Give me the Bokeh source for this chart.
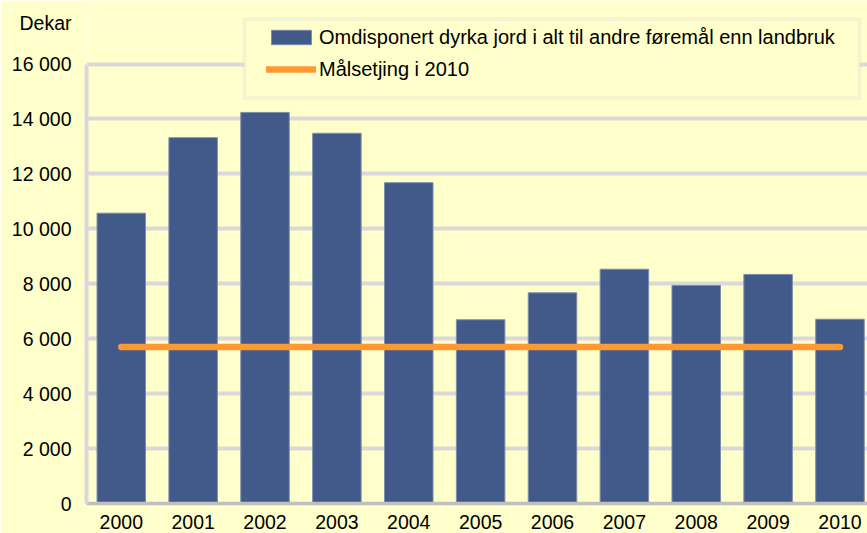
from bokeh.plotting import figure
from bokeh.models import (Range1d, FixedTicker, Legend, LegendItem,
                          BoxAnnotation, LinearAxis)
from bokeh.embed import file_html
from bokeh.resources import INLINE

# ---- data ----
years = [2000, 2001, 2002, 2003, 2004, 2005, 2006, 2007, 2008, 2009, 2010]
x_tick_labels = ["2000", "2001", "2002", "2003", "2004", "2005",
                 "2006", "2007", "2008", "2009", "2010"]
omdisponert = [10570, 13320, 14240, 13480, 11680, 6690, 7670, 8530, 7940, 8340, 6710]
target_years = [2000, 2010]
target_values = [5700, 5700]
y_ticks = [0, 2000, 4000, 6000, 8000, 10000, 12000, 14000, 16000]
y_tick_labels = ["0", "2 000", "4 000", "6 000", "8 000", "10 000",
                 "12 000", "14 000", "16 000"]
bar_label = "Omdisponert dyrka jord i alt til andre føremål enn landbruk"
line_label = "Målsetjing i 2010"
unit_label = "Dekar"

# ---- layout / styles ----
BG = "#FFFFCC"
BAR = "#415A89"
ORANGE = "#FF9933"
GRID = "#D9D9D9"
FONT = "Liberation Sans"
Y_TOP = 18314          # room above the 16 000 line for unit text and legend
UNIT_POS = 17484       # vertical position of the unit text on the y axis

p = figure(width=867, height=533, output_backend="svg", toolbar_location=None,
           tools="", x_range=Range1d(1999.516, 2010.383),
           y_range=Range1d(0, Y_TOP),
           min_border_left=86, min_border_right=0, min_border_top=0,
           min_border_bottom=30)
p.background_fill_color = BG
p.border_fill_color = BG
p.outline_line_color = None

bars = p.vbar(x=years, top=omdisponert, width=0.675, fill_color=BAR,
              line_color="#7C8DAD", line_width=1)
line = p.line(target_years, target_values, line_color=ORANGE, line_width=6.5,
              line_cap="round")

# grid
p.xgrid.visible = False
p.ygrid.ticker = FixedTicker(ticks=y_ticks)
p.ygrid.grid_line_color = GRID
p.ygrid.grid_line_width = 4

# y axis line only (next to the frame), limited to the value range
ya = p.yaxis[0]
ya.ticker = FixedTicker(ticks=[])
ya.bounds = (y_ticks[0], y_ticks[-1])
ya.axis_line_color = GRID
ya.axis_line_width = 4
ya.major_tick_line_color = None
ya.minor_tick_line_color = None
ya.major_tick_out = 0
ya.minor_tick_out = 0
ya.major_label_standoff = 0

# y axis labels (values + unit text)
yl = LinearAxis(ticker=FixedTicker(ticks=y_ticks + [UNIT_POS]))
overrides = {t: s for t, s in zip(y_ticks, y_tick_labels)}
overrides[UNIT_POS] = unit_label
yl.major_label_overrides = overrides
yl.axis_line_color = None
yl.major_tick_line_color = None
yl.minor_tick_line_color = None
yl.major_tick_out = 0
yl.minor_tick_out = 0
yl.major_label_standoff = 15
yl.major_label_text_font = FONT
yl.major_label_text_font_size = "19.5px"
yl.major_label_text_color = "#000000"
p.add_layout(yl, "left")

# x axis
xa = p.xaxis[0]
xa.ticker = FixedTicker(ticks=years)
xa.major_label_overrides = {t: s for t, s in zip(years, x_tick_labels)}
xa.axis_line_color = "#BFBFBF"
xa.axis_line_width = 3.5
xa.major_tick_line_color = None
xa.minor_tick_line_color = None
xa.major_tick_out = 0
xa.minor_tick_out = 0
xa.major_label_standoff = 11
xa.major_label_text_font = FONT
xa.major_label_text_font_size = "19.5px"
xa.major_label_text_color = "#000000"

# legend frame box
box = BoxAnnotation(left=158, right=773, bottom=405.5, top=484.5,
                    left_units="screen", right_units="screen",
                    bottom_units="screen", top_units="screen",
                    fill_color=BG, fill_alpha=1.0,
                    line_color=GRID, line_width=4)
p.add_layout(box)

legend = Legend(items=[LegendItem(label=bar_label, renderers=[bars]),
                       LegendItem(label=line_label, renderers=[line])],
                location=(180, 422), orientation="vertical",
                glyph_width=50, glyph_height=18, label_height=24,
                label_standoff=3, spacing=8, margin=0, padding=0,
                label_text_font=FONT, label_text_font_size="20px",
                label_text_color="#000000",
                border_line_color=None, background_fill_alpha=0)
p.add_layout(legend)

open("out.html", "w").write(file_html(p, INLINE))
